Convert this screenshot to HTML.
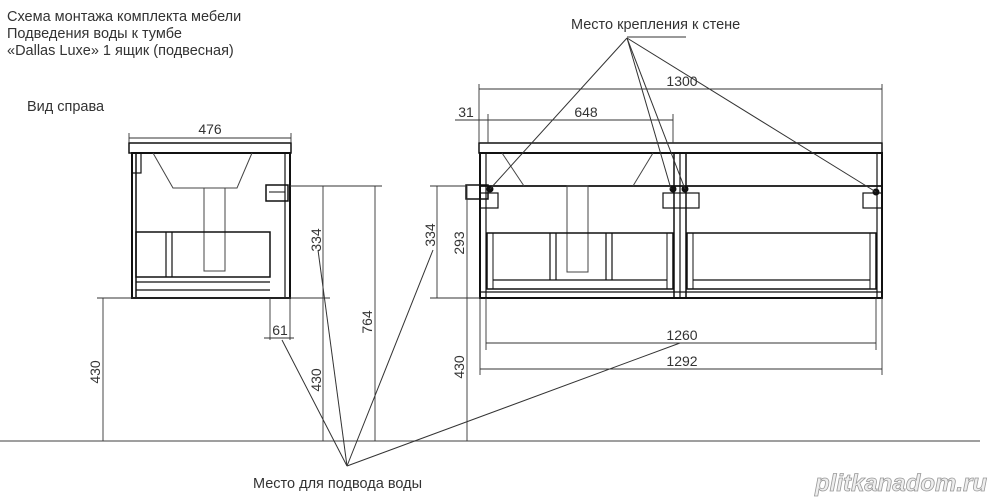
<!DOCTYPE html>
<html><head><meta charset="utf-8"><style>
html,body{margin:0;padding:0;background:#fff;}
svg{display:block;}
text{font-family:"Liberation Sans",sans-serif;fill:#333;}
</style></head><body>
<svg width="999" height="498" viewBox="0 0 999 498" xmlns="http://www.w3.org/2000/svg">
<g font-size="14.5">
<text x="7" y="21">Схема монтажа комплекта мебели</text>
<text x="7" y="38">Подведения воды к тумбе</text>
<text x="7" y="55">«Dallas Luxe» 1 ящик (подвесная)</text>
<text x="27" y="111">Вид справа</text>
<text x="571" y="29">Место крепления к стене</text>
<text x="253" y="488">Место для подвода воды</text>
</g>
<text x="815" y="491" font-size="24" font-weight="bold" font-style="italic" style="fill:#eee;stroke:#999;stroke-width:0.8">plitkanadom.ru</text>

<!-- ground -->
<line x1="0" y1="441" x2="980" y2="441" stroke="#666" stroke-width="1.2"/>

<!-- LEFT CABINET -->
<g stroke="#111" fill="none">
<rect x="129" y="143" width="162" height="10" stroke-width="1.5"/>
<rect x="132" y="153" width="158" height="145" stroke-width="2"/>
<line x1="136" y1="153" x2="136" y2="298" stroke-width="1.5"/>
<line x1="285" y1="153" x2="285" y2="298" stroke-width="1.2"/>
<rect x="132" y="153" width="9" height="20" stroke-width="1.2"/>
<polyline points="153,153 173,188 237,188 252,153" stroke-width="1" stroke="#444"/>
<rect x="204" y="188" width="21" height="83" stroke-width="1" stroke="#444"/>
<rect x="136" y="232" width="134" height="45" stroke-width="1.5"/>
<line x1="166" y1="232" x2="166" y2="277" stroke-width="1.2"/>
<line x1="172" y1="232" x2="172" y2="277" stroke-width="1.2"/>
<line x1="136" y1="282" x2="270" y2="282" stroke-width="1.2"/>
<line x1="136" y1="290" x2="270" y2="290" stroke-width="1.2"/>
<rect x="266" y="185" width="22" height="16" stroke-width="1.5"/>
<line x1="269" y1="192" x2="285" y2="192" stroke-width="1"/>
</g>

<!-- RIGHT CABINET -->
<g stroke="#111" fill="none">
<rect x="479" y="143" width="403" height="10" stroke-width="1.5"/>
<rect x="480" y="153" width="402" height="145" stroke-width="2"/>
<line x1="486" y1="153" x2="486" y2="298" stroke-width="1.2"/>
<line x1="877" y1="153" x2="877" y2="298" stroke-width="1.2"/>
<line x1="674" y1="153" x2="674" y2="298" stroke-width="1.5"/>
<line x1="680" y1="153" x2="680" y2="298" stroke-width="1.2"/>
<line x1="686" y1="153" x2="686" y2="298" stroke-width="1.5"/>
<line x1="480" y1="186" x2="882" y2="186" stroke-width="1.8"/>
<polyline points="502,153 524,186" stroke-width="1" stroke="#444"/>
<polyline points="653,153 633,186" stroke-width="1" stroke="#444"/>
<rect x="567" y="186" width="21" height="86" stroke-width="1" stroke="#444"/>
<rect x="487" y="233" width="186" height="56" stroke-width="1.5"/>
<line x1="493" y1="233" x2="493" y2="289" stroke-width="1"/>
<line x1="550" y1="233" x2="550" y2="280" stroke-width="1.2"/>
<line x1="556" y1="233" x2="556" y2="280" stroke-width="1.2"/>
<line x1="606" y1="233" x2="606" y2="280" stroke-width="1.2"/>
<line x1="612" y1="233" x2="612" y2="280" stroke-width="1.2"/>
<line x1="667" y1="233" x2="667" y2="289" stroke-width="1"/>
<line x1="493" y1="280" x2="667" y2="280" stroke-width="1.2"/>
<rect x="687" y="233" width="189" height="56" stroke-width="1.5"/>
<line x1="693" y1="233" x2="693" y2="289" stroke-width="1"/>
<line x1="870" y1="233" x2="870" y2="289" stroke-width="1"/>
<line x1="693" y1="280" x2="870" y2="280" stroke-width="1.2"/>
<line x1="480" y1="292" x2="882" y2="292" stroke-width="1.2"/>
<rect x="466" y="185" width="22" height="14" stroke-width="1.5"/>
<rect x="480" y="193" width="18" height="15" stroke-width="1.2"/>
<rect x="663" y="193" width="36" height="15" stroke-width="1.2"/>
<rect x="863" y="193" width="19" height="15" stroke-width="1.2"/>
<circle cx="490" cy="189" r="3" fill="#111"/>
<circle cx="673" cy="189" r="3" fill="#111"/>
<circle cx="685" cy="189" r="3" fill="#111"/>
<circle cx="876" cy="192" r="3" fill="#111"/>
</g>

<!-- dimension lines -->
<g stroke="#333" stroke-width="0.9" fill="none">
<line x1="129" y1="138" x2="291" y2="138"/><line x1="129" y1="133" x2="129" y2="143"/><line x1="291" y1="133" x2="291" y2="143"/>
<line x1="290" y1="186" x2="382" y2="186"/>
<line x1="97" y1="298" x2="330" y2="298"/>
<line x1="323" y1="186" x2="323" y2="441"/>
<line x1="375" y1="186" x2="375" y2="441"/>
<line x1="103" y1="298" x2="103" y2="441"/>
<line x1="270" y1="298" x2="270" y2="340"/><line x1="290" y1="298" x2="290" y2="340"/>
<line x1="264" y1="338" x2="294" y2="338"/>
<!-- right -->
<line x1="479" y1="89" x2="882" y2="89"/><line x1="479" y1="84" x2="479" y2="143"/><line x1="882" y1="84" x2="882" y2="143"/>
<line x1="455" y1="120" x2="673" y2="120"/><line x1="488" y1="114" x2="488" y2="143"/><line x1="673" y1="114" x2="673" y2="143"/>
<line x1="430" y1="186" x2="466" y2="186"/>
<line x1="430" y1="298" x2="480" y2="298"/>
<line x1="437" y1="186" x2="437" y2="298"/>
<line x1="467" y1="186" x2="467" y2="441"/>
<line x1="486" y1="298" x2="486" y2="350"/><line x1="876" y1="298" x2="876" y2="350"/>
<line x1="480" y1="298" x2="480" y2="375"/><line x1="882" y1="298" x2="882" y2="375"/>
<line x1="486" y1="343" x2="876" y2="343"/>
<line x1="480" y1="369" x2="882" y2="369"/>
</g>
<!-- leaders -->
<g stroke="#333" stroke-width="1" fill="none">
<line x1="627" y1="37" x2="686" y2="37"/>
<line x1="627" y1="38" x2="490" y2="189"/>
<line x1="627" y1="38" x2="671" y2="189"/>
<line x1="627" y1="38" x2="685" y2="189"/>
<line x1="627" y1="38" x2="876" y2="192"/>
<line x1="347" y1="466" x2="282" y2="340"/>
<line x1="347" y1="466" x2="318" y2="250"/>
<line x1="347" y1="466" x2="433" y2="250"/>
<line x1="347" y1="466" x2="680" y2="343"/>
</g>
<g font-size="14">
<text x="210" y="134" text-anchor="middle">476</text>
<text x="280" y="335" text-anchor="middle">61</text>
<text x="682" y="86" text-anchor="middle">1300</text>
<text x="586" y="117" text-anchor="middle">648</text>
<text x="466" y="117" text-anchor="middle">31</text>
<text x="682" y="340" text-anchor="middle">1260</text>
<text x="682" y="366" text-anchor="middle">1292</text>
<text transform="translate(321,240) rotate(-90)" text-anchor="middle">334</text>
<text transform="translate(372,322) rotate(-90)" text-anchor="middle">764</text>
<text transform="translate(100,372) rotate(-90)" text-anchor="middle">430</text>
<text transform="translate(321,380) rotate(-90)" text-anchor="middle">430</text>
<text transform="translate(435,235) rotate(-90)" text-anchor="middle">334</text>
<text transform="translate(464,243) rotate(-90)" text-anchor="middle">293</text>
<text transform="translate(464,367) rotate(-90)" text-anchor="middle">430</text>
</g>
</svg>
</body></html>
